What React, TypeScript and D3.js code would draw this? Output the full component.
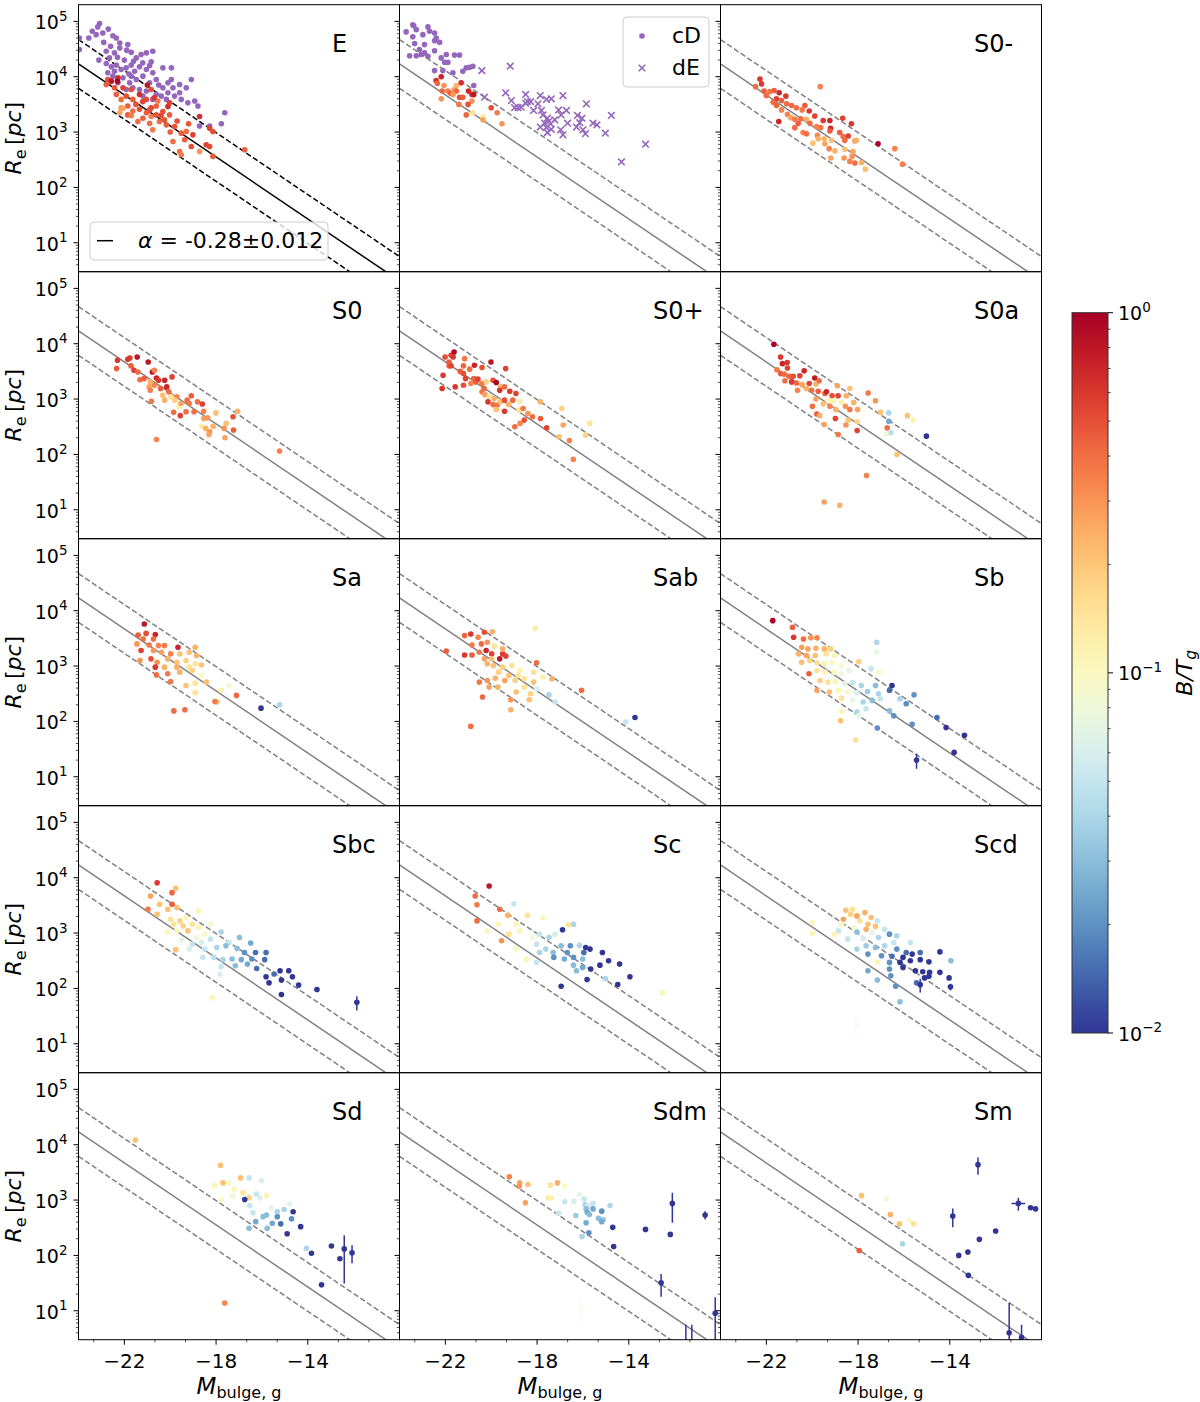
import React from "react";
import * as d3 from "d3";

// ---------------- axes / fit ----------------
const xDomain: [number, number] = [-24, -10];
const yDomain: [number, number] = [3, 2e5];
const xMajorTicks = [-22, -18, -14];
const xMinorTicks = [-23.333, -20.667, -19.333, -16.667, -15.333, -12.667, -11.333];
const yMajorExp = [1, 2, 3, 4, 5];
const cbarExp = [0, -1, -2];
const panelTitles = ["E", "", "S0-", "S0", "S0+", "S0a", "Sa", "Sab", "Sb", "Sbc", "Sc", "Scd", "Sd", "Sdm", "Sm"];
const fitAlpha = -0.28;
const fitZero = -2.49;
const fitWidth = 0.44;
const fitLabel = " = -0.28\u00b10.012";

// ---------------- data: [M, log10 Re, B/T] ----------------
const ePurple: [number, number][] = [
  [-23.08,4.96],[-23.16,4.90],[-23.55,4.70],[-23.96,4.70],[-23.96,4.49],[-23.23,4.76],[-22.94,4.79],[-22.5,4.74],[-22.35,4.70],[-22.2,4.61],
  [-21.85,4.58],[-23.11,4.30],[-22.79,4.46],[-22.65,4.34],[-22.43,4.43],[-22.2,4.52],[-21.7,4.44],[-21.48,4.34],[-21.27,4.40],[-21.04,4.43],
  [-20.76,4.46],[-20.83,4.27],[-22.57,4.18],[-22.35,4.21],[-22.14,4.13],[-21.92,4.16],[-21.7,4.21],[-21.55,4.10],[-21.34,4.18],[-21.04,4.13],
  [-21.19,4.01],[-20.76,4.07],[-20.61,3.95],[-20.9,3.89],[-20.32,4.16],[-20.32,3.80],[-20.1,3.89],[-19.95,3.95],[-19.88,3.80],[-20.1,3.71],
  [-19.81,3.65],[-20.39,3.65],[-19.59,3.71],[-19.52,3.59],[-19.08,3.95],[-19.95,4.16],[-19.3,3.80],[-19.59,3.86],[-19.23,3.53],[-18.79,3.47],
  [-18.93,3.56],[-18.72,3.11],[-18.28,3.11],[-17.77,3.15],[-17.62,3.35],[-22.79,4.24],[-22.5,4.01],[-22.28,3.89],[-22.06,3.98],[-21.77,3.89],
  [-21.48,3.95],[-21.63,3.80],[-21.34,3.77],[-21.04,3.74],[-21.92,3.77],[-21.7,4.01],[-21.19,3.65],[-20.76,3.59],[-20.61,3.68],[-20.17,3.59],
  [-22.43,4.10],[-22.72,4.07],[-22.9,4.62],[-22.6,4.55],[-22.0,4.30],[-21.6,4.28],[-21.9,4.48],[-21.2,4.25],[-20.9,4.20],[-22.3,4.35],
  [-21.8,4.05],[-20.5,3.85],[-23.4,4.82],[-22.7,4.86],
];
const eColored: [number, number, number][] = [
  [-22.72,3.95,0.5],[-22.28,3.98,0.65],[-22.79,3.86,0.45],[-22.43,3.80,0.48],[-22.06,3.80,0.55],[-21.7,3.77,0.5],[-22.35,3.68,0.45],[-22.14,3.59,0.4],
  [-21.92,3.65,0.5],[-21.63,3.59,0.45],[-21.34,3.68,0.65],[-21.04,3.59,0.5],[-22.14,3.44,0.3],[-21.85,3.47,0.45],[-21.63,3.38,0.4],[-21.34,3.41,0.5],
  [-21.04,3.35,0.45],[-20.83,3.44,0.55],[-20.61,3.47,0.45],[-21.19,3.25,0.45],[-20.83,3.28,0.36],[-20.61,3.31,0.48],[-20.32,3.37,0.5],[-20.1,3.46,0.65],
  [-20.03,3.31,0.45],[-20.47,3.19,0.4],[-20.17,3.13,0.45],[-19.81,3.10,0.48],[-20.76,3.04,0.36],[-19.52,2.98,0.45],[-19.88,2.83,0.4],[-19.37,2.86,0.45],
  [-19.01,2.95,0.55],[-19.08,2.74,0.5],[-19.59,2.65,0.4],[-19.52,2.59,0.36],[-18.72,2.65,0.3],[-18.43,2.77,0.55],[-18.28,2.74,0.52],[-18.14,2.56,0.45],
  [-18.28,3.07,0.55],[-18.14,3.01,0.5],[-16.75,2.68,0.45],[-20.83,3.77,0.5],[-20.03,3.53,0.55],[-20.54,3.56,0.36],[-21.85,3.31,0.45],[-22.2,3.35,0.27],
  [-22.06,3.43,0.27],[-21.41,3.19,0.4],[-20.9,3.16,0.4],[-20.25,3.22,0.48],[-19.3,3.01,0.4],[-22.57,3.92,0.8],[-22.3,3.92,0.95],[-18.72,3.28,0.65],
  [-21.5,3.50,0.48],[-21.2,3.55,0.55],[-20.9,3.40,0.5],[-21.7,3.30,0.36],[-20.4,3.30,0.52],[-20.7,3.62,0.6],[-21.0,3.85,0.8],[-19.7,3.20,0.5],
  [-20.0,3.00,0.45],[-19.2,3.15,0.48],
];
const cdDots: [number, number][] = [
  [-23.71,4.81],[-23.42,4.94],[-23.38,4.92],[-23.27,4.85],[-22.76,4.90],[-22.69,4.82],[-22.98,4.76],[-22.47,4.79],[-22.40,4.70],[-22.47,4.65],
  [-22.25,4.62],[-23.42,4.72],[-23.34,4.60],[-22.91,4.58],[-23.13,4.49],[-23.56,4.38],[-23.27,4.38],[-23.06,4.40],[-22.76,4.37],[-22.91,4.43],
  [-22.47,4.47],[-22.18,4.34],[-21.96,4.40],[-22.03,4.26],[-21.89,4.26],[-21.6,4.39],[-21.38,4.39],[-22.47,4.11],[-22.11,4.11],[-21.67,4.07],
  [-21.24,4.10],[-21.09,4.16],[-20.94,4.17],[-20.80,4.19],[-20.76,3.84],
];
const deCrosses: [number, number][] = [
  [-20.41,4.11],[-19.17,4.19],[-20.29,3.63],[-19.37,3.71],[-19.12,3.57],[-18.98,3.44],[-18.83,3.44],[-18.69,3.45],[-18.50,3.68],[-18.42,3.55],
  [-18.28,3.55],[-18.50,3.52],[-18.15,3.39],[-17.96,3.51],[-17.86,3.66],[-17.59,3.59],[-17.38,3.60],[-17.81,3.39],[-17.74,3.31],[-17.55,3.25],
  [-17.50,3.19],[-17.67,3.16],[-17.41,3.15],[-17.23,3.22],[-17.86,3.09],[-17.59,3.08],[-17.55,2.99],[-17.38,3.05],[-16.97,3.04],[-16.87,2.95],
  [-17.06,3.40],[-16.95,3.31],[-16.87,3.66],[-16.72,3.39],[-16.67,3.16],[-16.24,3.30],[-16.14,3.17],[-16.04,3.25],[-15.85,3.51],[-16.28,3.09],
  [-16.0,3.04],[-15.89,2.97],[-15.56,3.16],[-15.39,3.13],[-15.02,2.98],[-14.76,3.30],[-14.32,2.46],[-13.27,2.78],
];
const cdColored: [number, number, number][] = [
  [-22.40,3.93,0.65],[-22.18,4.0,0.7],[-22.35,3.88,0.42],[-22.06,3.84,0.3],[-22.14,3.74,0.42],[-21.89,3.74,0.36],[-22.18,3.60,0.3],[-21.77,3.70,0.45],
  [-21.62,3.77,0.27],[-21.52,3.84,0.24],[-21.52,3.74,0.42],[-21.67,3.68,0.3],[-21.38,3.63,0.5],[-21.24,3.63,0.45],[-21.31,3.89,0.65],[-20.99,3.74,0.7],
  [-20.84,3.68,0.65],[-20.76,3.68,0.8],[-20.84,3.56,0.3],[-21.41,3.50,0.36],[-21.01,3.50,0.5],[-21.09,3.31,0.42],[-20.80,3.35,0.15],[-20.36,3.28,0.13],
  [-20.36,3.22,0.27],[-20.0,3.44,0.5],[-19.74,3.35,0.36],[-19.53,3.15,0.3],
];
const s0mData: [number, number, number][] = [
  [-22.28,3.96,0.6],[-22.21,3.87,0.6],[-22.47,3.82,0.4],[-22.10,3.74,0.45],[-22.0,3.66,0.4],[-21.85,3.73,0.37],[-21.66,3.75,0.45],[-21.44,3.71,0.7],
  [-21.15,3.65,0.6],[-21.56,3.60,0.55],[-21.34,3.57,0.45],[-21.70,3.54,0.4],[-21.56,3.48,0.42],[-21.34,3.40,0.34],[-21.12,3.51,0.4],[-20.90,3.48,0.42],
  [-20.69,3.44,0.4],[-20.32,3.48,0.45],[-20.44,3.40,0.37],[-20.13,3.38,0.6],[-21.08,3.32,0.34],[-20.93,3.26,0.27],[-20.76,3.23,0.37],[-21.46,3.19,0.7],
  [-20.61,3.16,0.45],[-20.50,3.24,0.4],[-20.25,3.23,0.24],[-20.10,3.16,0.4],[-19.89,3.29,0.55],[-19.81,3.10,0.34],[-19.63,3.08,0.37],[-19.52,3.21,0.6],
  [-19.23,3.21,0.7],[-19.20,3.07,0.7],[-19.23,3.02,0.45],[-20.76,3.08,0.4],[-20.40,2.99,0.34],[-20.25,2.97,0.4],[-19.77,2.94,0.34],[-19.97,2.80,0.21],
  [-19.74,2.88,0.24],[-19.48,2.88,0.24],[-19.45,2.79,0.27],[-19.26,2.70,0.34],[-19.16,2.85,0.21],[-19.01,2.66,0.24],[-19.19,2.53,0.27],[-19.65,3.82,0.34],
  [-18.80,2.99,0.45],[-18.67,3.25,0.55],[-18.65,2.92,0.4],[-18.58,2.85,0.4],[-18.58,2.69,0.21],[-18.43,2.93,0.55],[-18.29,3.15,0.6],[-18.14,2.84,0.27],
  [-18.07,2.85,0.24],[-18.61,2.53,0.3],[-18.36,2.47,0.34],[-18.26,2.56,0.3],[-18.22,2.65,0.27],[-18.14,2.44,0.4],[-17.85,2.45,0.24],[-17.68,2.33,0.21],
  [-17.13,2.79,0.95],[-16.40,2.70,0.34],[-16.06,2.42,0.34],
];
const s0Data: [number, number, number][] = [
  [-22.30,3.70,0.6],[-22.34,3.55,0.45],[-21.85,3.72,0.6],[-21.76,3.74,0.6],[-21.44,3.76,0.8],[-20.96,3.67,0.8],[-21.71,3.60,0.45],[-21.58,3.52,0.55],
  [-21.41,3.49,0.4],[-21.32,3.35,0.4],[-21.14,3.37,0.45],[-20.78,3.49,0.8],[-20.69,3.52,0.34],[-20.60,3.38,0.7],[-20.87,3.31,0.24],[-20.51,3.34,0.6],
  [-20.24,3.34,0.7],[-19.92,3.40,0.55],[-20.92,3.22,0.27],[-20.69,3.25,0.34],[-20.42,3.19,0.45],[-20.15,3.22,0.7],[-20.87,3.16,0.34],[-20.06,3.13,0.4],
  [-20.33,3.07,0.21],[-19.97,3.04,0.15],[-19.71,3.04,0.34],[-20.82,2.96,0.37],[-20.24,2.98,0.24],[-19.80,2.98,0.18],[-19.62,2.86,0.13],[-19.53,2.92,0.27],
  [-19.26,2.98,0.4],[-19.17,2.92,0.37],[-19.08,3.06,0.45],[-18.81,2.95,0.4],[-18.60,2.91,0.55],[-18.96,2.77,0.4],[-19.31,2.77,0.4],[-19.56,2.70,0.55],
  [-19.85,2.76,0.4],[-18.54,2.78,0.34],[-18.01,2.75,0.21],[-18.54,2.65,0.27],[-18.37,2.66,0.3],[-18.63,2.51,0.13],[-18.45,2.47,0.24],[-18.28,2.41,0.3],
  [-18.31,2.36,0.27],[-18.13,2.51,0.24],[-17.56,2.56,0.21],[-17.61,2.30,0.27],[-17.65,2.47,0.3],[-17.24,2.44,0.45],[-17.26,2.68,0.5],[-17.06,2.78,0.24],
  [-20.60,2.27,0.34],[-15.23,2.06,0.34],
];
const s0pData: [number, number, number][] = [
  [-22.10,3.43,0.6],[-22.14,3.19,0.6],[-22.01,3.76,0.5],[-21.75,3.79,0.55],[-21.62,3.85,0.95],[-21.84,3.67,0.45],[-21.66,3.76,0.6],[-21.84,3.60,0.42],
  [-21.75,3.60,0.55],[-21.57,3.22,0.6],[-21.35,3.50,0.45],[-21.21,3.60,0.42],[-21.16,3.73,0.37],[-20.94,3.54,0.4],[-20.73,3.61,0.7],[-20.40,3.57,0.5],
  [-20.01,3.67,0.8],[-19.37,3.55,0.55],[-21.21,3.46,0.5],[-21.12,3.37,0.55],[-21.21,3.25,0.5],[-20.89,3.28,0.34],[-20.76,3.37,0.42],[-20.67,3.31,0.45],
  [-20.58,3.36,0.55],[-20.40,3.28,0.37],[-20.22,3.31,0.18],[-19.92,3.34,0.5],[-19.78,3.30,0.95],[-19.60,3.22,0.24],[-19.42,3.22,0.4],[-19.19,3.14,0.6],
  [-18.92,3.10,0.55],[-19.63,3.16,0.6],[-20.31,3.19,0.42],[-20.40,3.13,0.37],[-20.27,3.08,0.27],[-20.09,3.04,0.15],[-19.87,3.01,0.24],[-20.14,2.95,0.6],
  [-19.92,2.90,0.4],[-19.74,2.89,0.37],[-19.60,2.95,0.21],[-19.42,2.98,0.5],[-19.24,2.90,0.24],[-19.06,2.98,0.42],[-18.76,2.96,0.13],[-18.79,2.80,0.15],
  [-19.78,2.81,0.21],[-19.42,2.78,0.6],[-18.61,2.83,0.37],[-18.40,2.74,0.3],[-18.20,2.68,0.4],[-17.85,2.65,0.45],[-18.56,2.62,0.5],[-18.74,2.56,0.34],
  [-18.97,2.50,0.4],[-17.58,2.48,0.55],[-17.86,2.95,0.24],[-16.92,2.83,0.18],[-16.86,2.53,0.27],[-17.04,2.32,0.21],[-16.59,2.25,0.34],[-15.70,2.56,0.15],
  [-15.88,2.35,0.18],[-16.42,1.91,0.34],
];
const s0aData: [number, number, number][] = [
  [-21.67,3.99,0.95],[-21.38,3.76,0.6],[-21.30,3.64,0.7],[-21.09,3.66,0.6],[-21.08,3.56,0.55],[-21.54,3.53,0.37],[-21.38,3.46,0.45],[-21.22,3.45,0.4],
  [-21.01,3.41,0.42],[-20.83,3.41,0.5],[-20.35,3.51,0.7],[-20.54,3.42,0.55],[-21.19,3.33,0.4],[-20.90,3.31,0.6],[-20.69,3.29,0.42],[-20.44,3.26,0.27],
  [-20.13,3.28,0.55],[-19.89,3.38,0.8],[-19.84,3.27,0.24],[-19.70,3.33,0.4],[-20.64,3.16,0.34],[-20.25,3.19,0.24],[-20.03,3.16,0.4],[-19.74,3.14,0.45],
  [-19.45,3.10,0.4],[-19.38,3.13,0.7],[-19.13,3.06,0.5],[-18.87,3.06,0.55],[-18.51,3.06,0.24],[-18.36,3.19,0.21],[-18.90,3.24,0.27],[-19.99,2.87,0.4],
  [-19.84,3.00,0.27],[-19.52,2.91,0.21],[-19.31,2.97,0.11],[-19.09,2.97,0.12],[-18.73,2.94,0.12],[-19.23,2.87,0.34],[-18.97,2.81,0.24],[-18.55,2.87,0.3],
  [-18.36,2.81,0.37],[-18.19,2.94,0.24],[-18.02,2.81,0.27],[-19.80,2.73,0.45],[-19.67,2.70,0.24],[-19.48,2.54,0.27],[-18.99,2.65,0.55],[-18.87,2.36,0.37],
  [-18.53,2.53,0.3],[-18.43,2.62,0.21],[-18.04,2.59,0.18],[-18.04,2.43,0.55],[-17.56,3.11,0.37],[-17.24,2.97,0.3],[-17.02,2.76,0.21],[-16.73,2.48,0.4],
  [-16.66,2.75,0.04],[-16.66,2.60,0.025],[-16.57,2.39,0.045],[-16.80,2.37,0.08],[-16.30,2.00,0.21],[-15.85,2.70,0.21],[-15.60,2.62,0.12],[-15.02,2.33,0.01],
  [-17.63,1.62,0.34],[-19.48,1.14,0.27],[-18.80,1.08,0.24],
];
const saData: [number, number, number][] = [
  [-21.13,3.76,0.8],[-21.40,3.56,0.45],[-21.05,3.59,0.5],[-20.65,3.57,0.7],[-21.18,3.49,0.4],[-20.73,3.49,0.4],[-21.45,3.40,0.3],[-20.92,3.38,0.37],
  [-20.51,3.37,0.34],[-20.25,3.37,0.37],[-19.66,3.34,0.7],[-18.91,3.34,0.24],[-21.27,3.28,0.55],[-20.73,3.28,0.3],[-20.38,3.25,0.27],[-19.98,3.22,0.34],
  [-19.58,3.22,0.21],[-19.17,3.25,0.21],[-18.85,3.19,0.24],[-21.32,3.10,0.3],[-20.84,3.13,0.5],[-20.57,3.07,0.3],[-20.11,3.13,0.24],[-19.71,3.07,0.21],
  [-19.31,3.10,0.18],[-18.91,3.04,0.15],[-18.64,3.02,0.21],[-20.65,2.98,0.6],[-20.25,2.98,0.24],[-19.71,2.98,0.24],[-19.17,2.98,0.15],[-20.60,2.84,0.4],
  [-20.11,2.86,0.37],[-19.58,2.89,0.24],[-19.04,2.92,0.18],[-18.64,2.83,0.1],[-19.98,2.72,0.37],[-19.31,2.65,0.21],[-18.91,2.69,0.15],[-18.42,2.71,0.21],
  [-17.78,2.56,0.12],[-17.43,2.65,0.09],[-18.91,2.52,0.15],[-17.97,2.35,0.21],[-18.05,2.36,0.37],[-17.11,2.47,0.4],[-19.84,2.19,0.4],[-19.36,2.21,0.4],
  [-16.04,2.24,0.01],[-15.23,2.30,0.04],
];
const sabData: [number, number, number][] = [
  [-21.96,3.27,0.45],[-21.16,3.55,0.42],[-20.89,3.58,0.6],[-20.57,3.52,0.34],[-20.30,3.61,0.5],[-19.95,3.62,0.24],[-21.16,3.20,0.6],[-20.84,3.38,0.37],
  [-20.43,3.40,0.4],[-20.17,3.43,0.3],[-20.84,3.20,0.45],[-20.52,3.25,0.37],[-20.22,3.28,0.7],[-19.98,3.22,0.55],[-19.50,3.22,0.6],[-19.87,3.36,0.15],
  [-19.50,3.31,0.24],[-20.30,3.13,0.27],[-19.98,3.13,0.21],[-19.63,3.13,0.8],[-19.36,3.18,0.55],[-20.17,3.04,0.24],[-19.90,3.01,0.21],[-19.50,2.98,0.18],
  [-19.10,3.01,0.15],[-18.75,2.92,0.12],[-18.02,3.06,0.4],[-18.15,2.89,0.15],[-17.75,2.80,0.12],[-19.68,2.89,0.18],[-19.23,2.83,0.21],[-18.83,2.83,0.15],
  [-19.82,2.78,0.24],[-19.41,2.74,0.27],[-18.96,2.74,0.18],[-18.56,2.77,0.15],[-18.15,2.71,0.21],[-20.52,2.71,0.37],[-20.17,2.74,0.3],[-20.09,2.62,0.27],
  [-19.71,2.62,0.24],[-18.91,2.53,0.21],[-18.56,2.62,0.15],[-18.02,2.59,0.06],[-18.29,2.50,0.18],[-17.48,2.48,0.04],[-18.34,2.39,0.21],[-19.15,2.39,0.3],
  [-17.21,2.35,0.05],[-17.35,2.77,0.24],[-20.38,2.44,0.4],[-19.15,2.21,0.24],[-18.08,3.68,0.13],[-16.06,2.56,0.4],[-20.89,1.91,0.4],[-14.13,1.99,0.05],
  [-13.73,2.07,0.01],
];
const sbData: [number, number, number][] = [
  [-21.72,3.82,0.95],[-20.86,3.70,0.45],[-20.81,3.52,0.6],[-20.38,3.49,0.4],[-20.06,3.51,0.3],[-19.79,3.51,0.34],[-20.46,3.34,0.27],[-20.19,3.31,0.27],
  [-19.84,3.32,0.24],[-19.47,3.31,0.24],[-19.20,3.31,0.18],[-20.60,3.22,0.24],[-20.25,3.19,0.27],[-19.87,3.19,0.21],[-19.39,3.22,0.15],[-19.04,3.19,0.11],
  [-20.46,3.07,0.21],[-20.11,3.10,0.18],[-19.79,3.06,0.15],[-19.47,3.04,0.11],[-19.12,3.06,0.1],[-18.72,3.01,0.09],[-20.14,2.86,0.45],[-19.79,2.92,0.15],
  [-19.44,2.89,0.11],[-19.04,2.89,0.1],[-18.72,2.86,0.08],[-18.40,2.92,0.07],[-17.97,3.08,0.18],[-17.43,2.95,0.05],[-17.11,2.89,0.09],[-17.19,3.43,0.04],
  [-17.19,3.26,0.07],[-19.66,2.74,0.18],[-19.31,2.71,0.15],[-18.99,2.72,0.11],[-18.58,2.68,0.07],[-18.24,2.70,0.05],[-17.86,2.65,0.04],[-17.24,2.65,0.03],
  [-16.52,2.65,0.01],[-19.79,2.56,0.27],[-19.25,2.53,0.21],[-18.85,2.56,0.11],[-18.45,2.53,0.09],[-18.05,2.52,0.06],[-17.59,2.54,0.035],[-17.11,2.50,0.04],
  [-16.63,2.56,0.015],[-15.56,2.48,0.02],[-18.72,2.42,0.15],[-18.24,2.39,0.07],[-17.78,2.35,0.04],[-17.38,2.38,0.03],[-17.03,2.41,0.05],[-16.17,2.41,0.04],
  [-15.90,2.32,0.02],[-18.72,2.18,0.11],[-18.05,2.17,0.04],[-17.65,2.23,0.05],[-16.63,2.19,0.03],[-16.44,2.10,0.02],[-14.56,2.07,0.015],[-18.77,2.01,0.21],
  [-17.97,2.10,0.07],[-17.16,1.88,0.02],[-15.64,1.95,0.02],[-14.16,1.89,0.01],[-13.36,1.75,0.01],[-18.10,1.67,0.15],[-13.81,1.44,0.01],
];
const sbcData: [number, number, number][] = [
  [-20.57,3.91,0.6],[-19.92,3.73,0.42],[-19.76,3.81,0.21],[-20.86,3.67,0.27],[-20.46,3.52,0.21],[-19.92,3.52,0.45],[-20.97,3.43,0.37],[-20.57,3.34,0.21],
  [-20.11,3.43,0.21],[-19.71,3.46,0.21],[-18.77,3.40,0.11],[-19.98,3.25,0.15],[-19.58,3.22,0.18],[-19.31,3.28,0.11],[-19.04,3.16,0.15],[-19.84,3.16,0.15],
  [-19.44,3.13,0.18],[-20.11,3.02,0.11],[-19.71,3.04,0.1],[-19.23,3.04,0.21],[-18.77,3.10,0.11],[-18.24,3.16,0.09],[-18.50,2.98,0.09],[-18.85,2.92,0.08],
  [-19.50,2.88,0.07],[-19.04,2.80,0.05],[-18.64,2.83,0.06],[-18.24,2.89,0.05],[-17.78,3.02,0.04],[-17.43,2.83,0.05],[-16.98,2.92,0.03],[-16.49,2.82,0.025],
  [-19.76,2.70,0.21],[-19.17,2.71,0.06],[-18.50,2.71,0.05],[-17.97,2.74,0.04],[-17.57,2.77,0.03],[-17.08,2.72,0.03],[-16.76,2.65,0.02],[-16.28,2.65,0.015],
  [-15.82,2.65,0.015],[-18.58,2.56,0.05],[-18.10,2.56,0.045],[-17.70,2.52,0.04],[-17.30,2.53,0.03],[-16.90,2.52,0.025],[-16.44,2.53,0.02],[-15.88,2.52,0.015],
  [-17.78,2.39,0.05],[-17.16,2.41,0.03],[-16.63,2.44,0.025],[-16.23,2.36,0.015],[-17.83,2.26,0.06],[-15.82,2.21,0.01],[-15.47,2.26,0.015],[-15.21,2.32,0.01],
  [-14.83,2.32,0.01],[-14.67,2.21,0.01],[-15.69,2.10,0.01],[-15.15,2.15,0.01],[-14.40,2.06,0.01],[-13.60,1.98,0.01],[-15.15,1.89,0.01],[-18.16,1.83,0.11],
];
const scData: [number, number, number][] = [
  [-20.09,3.85,0.8],[-20.70,3.67,0.4],[-20.62,3.51,0.37],[-19.63,3.43,0.4],[-20.62,3.22,0.4],[-19.01,3.53,0.05],[-19.28,3.32,0.24],[-18.42,3.32,0.15],
  [-17.75,3.28,0.1],[-19.68,3.16,0.11],[-20.17,3.04,0.11],[-18.91,3.16,0.11],[-16.63,3.15,0.15],[-16.41,3.16,0.04],[-19.55,2.86,0.3],[-19.23,2.98,0.15],
  [-18.75,3.04,0.11],[-18.21,2.92,0.08],[-17.89,2.98,0.05],[-17.48,2.92,0.04],[-17.21,2.98,0.06],[-16.89,3.06,0.01],[-18.91,2.71,0.1],[-18.02,2.80,0.05],
  [-17.62,2.71,0.04],[-16.95,2.77,0.03],[-16.55,2.77,0.02],[-16.15,2.78,0.04],[-15.88,2.74,0.01],[-15.69,2.71,0.01],[-17.89,2.65,0.04],[-17.30,2.65,0.03],
  [-16.68,2.65,0.02],[-15.96,2.65,0.015],[-15.15,2.65,0.01],[-17.27,2.56,0.02],[-16.81,2.53,0.025],[-16.41,2.56,0.02],[-16.01,2.53,0.03],[-14.88,2.50,0.01],
  [-18.48,2.52,0.11],[-18.02,2.47,0.05],[-16.41,2.42,0.03],[-16.01,2.38,0.025],[-15.66,2.35,0.01],[-15.26,2.42,0.01],[-14.40,2.44,0.01],[-16.28,2.32,0.03],
  [-15.82,2.16,0.01],[-15.02,2.18,0.04],[-13.95,2.21,0.01],[-14.48,2.07,0.01],[-16.95,2.04,0.01],[-12.53,1.92,0.11],
];
const scdData: [number, number, number][] = [
  [-20.01,3.19,0.11],[-19.98,2.99,0.11],[-18.53,3.41,0.21],[-18.24,3.43,0.15],[-17.70,3.37,0.24],[-18.32,3.34,0.18],[-18.05,3.31,0.27],[-17.43,3.28,0.21],
  [-18.64,3.25,0.27],[-17.92,3.22,0.15],[-17.16,3.22,0.05],[-18.72,3.16,0.1],[-18.18,3.10,0.09],[-17.57,3.16,0.21],[-17.24,3.12,0.21],[-18.85,3.04,0.05],
  [-19.04,2.98,0.11],[-18.05,3.02,0.03],[-17.65,3.07,0.24],[-17.38,3.01,0.07],[-16.84,3.07,0.05],[-16.63,2.98,0.02],[-16.31,2.95,0.04],[-18.45,2.89,0.05],
  [-17.78,2.90,0.06],[-17.11,2.92,0.04],[-16.44,2.83,0.05],[-15.72,2.83,0.05],[-18.05,2.71,0.04],[-17.65,2.77,0.035],[-17.24,2.74,0.03],[-16.84,2.77,0.04],
  [-16.31,2.71,0.02],[-15.90,2.65,0.015],[-17.57,2.62,0.02],[-16.98,2.59,0.02],[-16.52,2.58,0.015],[-16.04,2.56,0.01],[-15.64,2.62,0.01],[-15.29,2.65,0.015],
  [-14.43,2.66,0.01],[-17.16,2.47,0.11],[-16.63,2.47,0.02],[-16.17,2.47,0.01],[-15.72,2.50,0.01],[-15.29,2.52,0.01],[-14.91,2.48,0.01],[-13.95,2.50,0.03],
  [-17.57,2.32,0.025],[-16.63,2.35,0.02],[-16.04,2.38,0.01],[-15.50,2.32,0.01],[-15.18,2.30,0.01],[-14.88,2.29,0.01],[-14.43,2.29,0.01],[-15.10,2.19,0.01],
  [-14.91,2.22,0.01],[-17.16,2.15,0.03],[-16.57,2.23,0.02],[-15.45,2.10,0.015],[-16.36,2.04,0.02],[-14.03,2.19,0.01],[-16.17,1.76,0.03],
];
const sdData: [number, number, number][] = [
  [-21.52,4.085,0.21],[-17.81,3.63,0.21],[-18.06,3.26,0.11],[-17.70,3.31,0.21],[-17.45,3.31,0.1],[-17.77,3.01,0.1],[-17.26,3.07,0.08],[-17.22,3.20,0.11],
  [-16.93,3.40,0.21],[-16.83,3.13,0.15],[-16.56,3.40,0.05],[-16.56,3.04,0.18],[-16.75,3.01,0.01],[-16.53,2.90,0.05],[-16.39,2.77,0.05],[-16.56,2.49,0.03],
  [-16.27,2.61,0.025],[-16.24,3.11,0.05],[-16.02,3.35,0.06],[-16.09,3.04,0.06],[-15.80,3.08,0.11],[-15.95,2.70,0.03],[-15.80,2.73,0.03],[-15.59,2.86,0.07],
  [-15.77,2.49,0.03],[-15.55,2.58,0.025],[-15.33,2.70,0.02],[-15.33,2.79,0.04],[-15.18,2.57,0.015],[-15.03,2.83,0.04],[-14.79,2.93,0.07],[-14.71,2.66,0.02],
  [-14.64,2.79,0.01],[-14.90,2.39,0.01],[-14.31,2.52,0.01],[-14.06,2.13,0.04],[-13.84,2.04,0.01],[-13.40,1.47,0.01],[-12.97,2.17,0.01],[-12.60,1.94,0.01],
  [-17.62,1.14,0.34],
];
const sdmData: [number, number, number][] = [
  [-19.21,3.42,0.34],[-18.76,3.31,0.27],[-18.78,3.25,0.3],[-18.40,3.28,0.21],[-18.51,2.95,0.27],[-17.42,3.27,0.15],[-17.11,3.31,0.24],[-16.79,3.25,0.1],
  [-17.52,3.04,0.13],[-17.38,3.04,0.12],[-17.06,2.76,0.05],[-16.79,2.97,0.05],[-16.40,2.98,0.06],[-16.16,3.10,0.07],[-15.95,3.02,0.05],[-15.90,2.92,0.04],
  [-15.77,2.90,0.06],[-15.56,2.94,0.05],[-15.56,2.84,0.025],[-15.86,2.84,0.03],[-15.81,2.78,0.025],[-15.72,2.74,0.03],[-16.31,2.72,0.035],[-15.18,2.80,0.02],
  [-14.82,2.90,0.04],[-15.32,2.67,0.03],[-15.11,2.65,0.035],[-15.18,2.61,0.025],[-15.86,2.59,0.025],[-16.04,2.34,0.04],[-15.74,2.41,0.02],[-14.70,2.51,0.01],
  [-14.66,2.16,0.01],[-13.27,2.47,0.01],[-12.19,2.38,0.01],
];
const smData: [number, number, number][] = [
  [-17.85,3.08,0.21],[-17.95,2.09,0.45],[-16.77,3.02,0.08],[-16.59,2.74,0.24],[-16.20,2.57,0.21],[-15.75,2.63,0.1],[-15.57,2.57,0.15],[-16.06,2.21,0.04],
  [-13.61,2.00,0.01],[-13.21,2.06,0.01],[-13.19,1.64,0.01],[-12.71,2.29,0.01],[-12.0,2.44,0.01],[-10.48,2.86,0.01],
];

// points with error bars / faint points: [M, Re (pc), Re error (pc), B/T, opacity, M error]
type ErrPt = [number, number, number, number, number, number];
const s0pExtra: ErrPt[] = [[-16.68, 93, 0, 0.08, 0.35, 0]];
const sbErr: ErrPt[] = [[-15.45, 20, 6, 0.01, 1, 0]];
const sbcErr: ErrPt[] = [[-11.86, 56, 16, 0.01, 1, 0]];
const scdErr: ErrPt[] = [[-15.29, 117, 33, 0.01, 1, 0], [-13.97, 107, 15, 0.01, 1, 0], [-18.10, 22, 9, 0.07, 0.35, 0]];
const sdErr: ErrPt[] = [[-12.41, 131, 100, 0.01, 1, 0], [-12.07, 112, 40, 0.01, 1, 0]];
const sdmErr: ErrPt[] = [
  [-12.10, 870, 480, 0.01, 1, 0], [-10.67, 537, 90, 0.01, 1, 0], [-12.59, 32, 14, 0.01, 1, 0], [-10.23, 9, 8.6, 0.01, 1, 0],
  [-11.51, 2.0, 3.6, 0.01, 1, 0], [-11.25, 1.5, 4.1, 0.01, 1, 0], [-16.08, 11, 5, 0.08, 0.35, 0],
];
const smErr: ErrPt[] = [
  [-13.87, 513, 190, 0.01, 1, 0], [-12.77, 4365, 1500, 0.01, 1, 0], [-11.01, 871, 230, 0.01, 1, 0.3], [-10.26, 692, 60, 0.01, 1, 0],
  [-11.41, 4, 10, 0.01, 1, 0], [-10.87, 3.3, 2.3, 0.01, 1, 0],
];

const panelColored: [number, number, number][][] = [
  eColored, cdColored, s0mData, s0Data, s0pData, s0aData, saData, sabData, sbData, sbcData, scData, scdData, sdData, sdmData, smData,
];
const panelErr: ErrPt[][] = [[], [], [], [], s0pExtra, [], [], [], sbErr, sbcErr, [], scdErr, sdErr, sdmErr, smErr];

// ---------------- layout ----------------
const L0 = 78.5, T0 = 4.7, PW = 321, PH = 267;
const CB_X = 1072, CB_Y = 312.7, CB_W = 36, CB_H = 720.3;
const FONT = "DejaVu Sans, Verdana, sans-serif";
const PURPLE = "#9467bd";
const GREY = "#808080";

const x = d3.scaleLinear().domain(xDomain).range([0, PW]);
const y = d3.scaleLog().domain(yDomain).range([PH, 0]);
const btNorm = d3.scaleLog().domain([0.01, 1]).range([0, 1]).clamp(true);
const btColor = (bt: number) => d3.interpolateRdYlBu(1 - btNorm(bt));
const cbScale = d3.scaleLog().domain([0.01, 1]).range([CB_H, 0]);

const fitLine = (off: number) =>
  d3.line<number>()
    .x((m) => x(m))
    .y((m) => y(Math.pow(10, fitAlpha * m + fitZero + off)))(xDomain) as string;

const yMinor: number[] = [];
for (let e = 0; e <= 5; e++) for (let k = 2; k <= 9; k++) {
  const v = k * Math.pow(10, e);
  if (v > yDomain[0] && v < yDomain[1]) yMinor.push(v);
}
const cbMinor: number[] = [];
for (let e = -2; e <= -1; e++) for (let k = 2; k <= 9; k++) cbMinor.push(k * Math.pow(10, e));

const expLabel = (e: number) => (e < 0 ? "\u2212" + Math.abs(e) : String(e));

function Panel({ idx }: { idx: number }) {
  const col = idx % 3;
  const row = Math.floor(idx / 3);
  const isE = idx === 0;
  const lineCol = isE ? "#000" : GREY;
  const colored = panelColored[idx];
  const errs = panelErr[idx];
  return (
    <g transform={`translate(${L0 + col * PW},${T0 + row * PH})`}>
      <g clipPath="url(#pclip)">
        <path d={fitLine(0)} stroke={lineCol} strokeWidth={1.5} fill="none" />
        <path d={fitLine(fitWidth)} stroke={lineCol} strokeWidth={1.5} fill="none" strokeDasharray="5.5,2.6" />
        <path d={fitLine(-fitWidth)} stroke={lineCol} strokeWidth={1.5} fill="none" strokeDasharray="5.5,2.6" />
        {isE && ePurple.map((p, i) => <circle key={"ep" + i} cx={x(p[0])} cy={y(Math.pow(10, p[1]))} r={2.8} fill={PURPLE} />)}
        {idx === 1 && cdDots.map((p, i) => <circle key={"cd" + i} cx={x(p[0])} cy={y(Math.pow(10, p[1]))} r={2.8} fill={PURPLE} />)}
        {idx === 1 && deCrosses.map((p, i) => {
          const cx = x(p[0]), cy = y(Math.pow(10, p[1]));
          return <path key={"de" + i} d={`M${cx - 3.3},${cy - 3.3}L${cx + 3.3},${cy + 3.3}M${cx - 3.3},${cy + 3.3}L${cx + 3.3},${cy - 3.3}`} stroke={PURPLE} strokeWidth={1.6} />;
        })}
        {colored.map((p, i) => <circle key={"c" + i} cx={x(p[0])} cy={y(Math.pow(10, p[1]))} r={2.8} fill={btColor(p[2])} />)}
        {errs.map((p, i) => {
          const [m, re, er, bt, op, xe] = p;
          const c = btColor(bt);
          return (
            <g key={"e" + i} opacity={op}>
              {er > 0 && <line x1={x(m)} x2={x(m)} y1={y(Math.max(re - er, 0.3))} y2={y(re + er)} stroke={c} strokeWidth={1.5} />}
              {xe > 0 && <line x1={x(m - xe)} x2={x(m + xe)} y1={y(re)} y2={y(re)} stroke={c} strokeWidth={1.5} />}
              <circle cx={x(m)} cy={y(re)} r={2.8} fill={c} />
            </g>
          );
        })}
      </g>
      {yMajorExp.map((e) => (
        <line key={"ym" + e} x1={-5} x2={0} y1={y(Math.pow(10, e))} y2={y(Math.pow(10, e))} stroke="#000" strokeWidth={1} />
      ))}
      {yMinor.map((v, i) => (
        <line key={"yn" + i} x1={-2.6} x2={0} y1={y(v)} y2={y(v)} stroke="#000" strokeWidth={0.7} />
      ))}
      {col === 0 && yMajorExp.map((e) => (
        <text key={"yl" + e} x={-11} y={y(Math.pow(10, e)) + 8} textAnchor="end" fontSize={19} fontFamily={FONT} fill="#000">
          10<tspan dy={-8.5} fontSize={13.5}>{expLabel(e)}</tspan>
        </text>
      ))}
      {col === 0 && (
        <text transform={`translate(-57.5,${PH / 2}) rotate(-90)`} textAnchor="middle" fontSize={22} fontFamily={FONT} fill="#000">
          <tspan fontStyle="italic">R</tspan>
          <tspan fontSize={16} dy={4.5}>e</tspan>
          <tspan dy={-4.5}>{"\u2009["}</tspan>
          <tspan fontStyle="italic">pc</tspan>
          <tspan>]</tspan>
        </text>
      )}
      {row === 4 && (
        <g>
          {xMajorTicks.map((t) => (
            <line key={"xm" + t} x1={x(t)} x2={x(t)} y1={PH} y2={PH + 5} stroke="#000" strokeWidth={1} />
          ))}
          {xMinorTicks.map((t) => (
            <line key={"xn" + t} x1={x(t)} x2={x(t)} y1={PH} y2={PH + 2.6} stroke="#000" strokeWidth={0.7} />
          ))}
          {xMajorTicks.map((t) => (
            <text key={"xl" + t} x={x(t)} y={PH + 28} textAnchor="middle" fontSize={20} fontFamily={FONT} fill="#000">
              {"\u2212" + Math.abs(t)}
            </text>
          ))}
          <text x={PW / 2} y={PH + 54.5} textAnchor="middle" fontSize={23} fontFamily={FONT} fill="#000">
            <tspan fontStyle="italic">M</tspan>
            <tspan fontSize={16} dy={4}>bulge, g</tspan>
          </text>
        </g>
      )}
      {panelTitles[idx] && (
        <text x={PW * 0.79} y={47} fontSize={24} fontFamily={FONT} fill="#000">{panelTitles[idx]}</text>
      )}
      {isE && (
        <g>
          <rect x={11.5} y={217.3} width={238} height={38} rx={4} fill="#fff" fillOpacity={0.8} stroke="#cccccc" strokeWidth={1} />
          <line x1={18.5} x2={34.5} y1={236} y2={236} stroke="#000" strokeWidth={1.5} />
          <text x={59.5} y={243.5} fontSize={22} fontFamily={FONT} fill="#000">
            <tspan fontStyle="italic">{"\u03b1"}</tspan>
            <tspan>{fitLabel}</tspan>
          </text>
        </g>
      )}
      {idx === 1 && (
        <g>
          <rect x={223.5} y={12.3} width={86} height={70} rx={4} fill="#fff" fillOpacity={0.8} stroke="#cccccc" strokeWidth={1} />
          <circle cx={242.5} cy={31.3} r={2.8} fill={PURPLE} />
          <text x={272.5} y={38.8} fontSize={22} fontFamily={FONT} fill="#000">cD</text>
          <path d={`M${242.5 - 3.3},${63.3 - 3.3}L${242.5 + 3.3},${63.3 + 3.3}M${242.5 - 3.3},${63.3 + 3.3}L${242.5 + 3.3},${63.3 - 3.3}`} stroke={PURPLE} strokeWidth={1.6} />
          <text x={272.5} y={70.8} fontSize={22} fontFamily={FONT} fill="#000">dE</text>
        </g>
      )}
      <rect x={0} y={0} width={PW} height={PH} fill="none" stroke="#000" strokeWidth={1} />
    </g>
  );
}

function ColorBar() {
  const stops = d3.range(0, 21).map((k) => k / 20);
  return (
    <g>
      <defs>
        <linearGradient id="cbgrad" x1="0" y1="0" x2="0" y2="1">
          {stops.map((s) => (
            <stop key={s} offset={s} stopColor={d3.interpolateRdYlBu(s)} />
          ))}
        </linearGradient>
      </defs>
      <rect x={CB_X} y={CB_Y} width={CB_W} height={CB_H} fill="url(#cbgrad)" stroke="#333" strokeWidth={1} />
      {cbarExp.map((e) => (
        <g key={"cb" + e}>
          <line x1={CB_X + CB_W} x2={CB_X + CB_W + 5} y1={CB_Y + cbScale(Math.pow(10, e))} y2={CB_Y + cbScale(Math.pow(10, e))} stroke="#000" />
          <text x={CB_X + CB_W + 10} y={CB_Y + cbScale(Math.pow(10, e)) + 7.5} fontSize={19} fontFamily={FONT} fill="#000">
            10<tspan dy={-8.5} fontSize={13.5}>{expLabel(e)}</tspan>
          </text>
        </g>
      ))}
      {cbMinor.map((v, i) => (
        <line key={"cbm" + i} x1={CB_X + CB_W} x2={CB_X + CB_W + 2.6} y1={CB_Y + cbScale(v)} y2={CB_Y + cbScale(v)} stroke="#000" strokeWidth={0.7} />
      ))}
      <text transform={`translate(1192,${CB_Y + CB_H / 2}) rotate(-90)`} textAnchor="middle" fontSize={22} fontFamily={FONT} fill="#000">
        <tspan fontStyle="italic">B/T</tspan>
        <tspan fontStyle="italic" fontSize={15.5} dy={4}>g</tspan>
      </text>
    </g>
  );
}

export default function App() {
  return (
    <svg width={1200} height={1402} style={{ position: "absolute", left: 0, top: 0, background: "#fff" }}>
      <defs>
        <clipPath id="pclip">
          <rect x={0} y={0} width={PW} height={PH} />
        </clipPath>
      </defs>
      <rect x={0} y={0} width={1200} height={1402} fill="#fff" />
      {panelTitles.map((_, i) => (
        <Panel key={i} idx={i} />
      ))}
      <ColorBar />
    </svg>
  );
}
